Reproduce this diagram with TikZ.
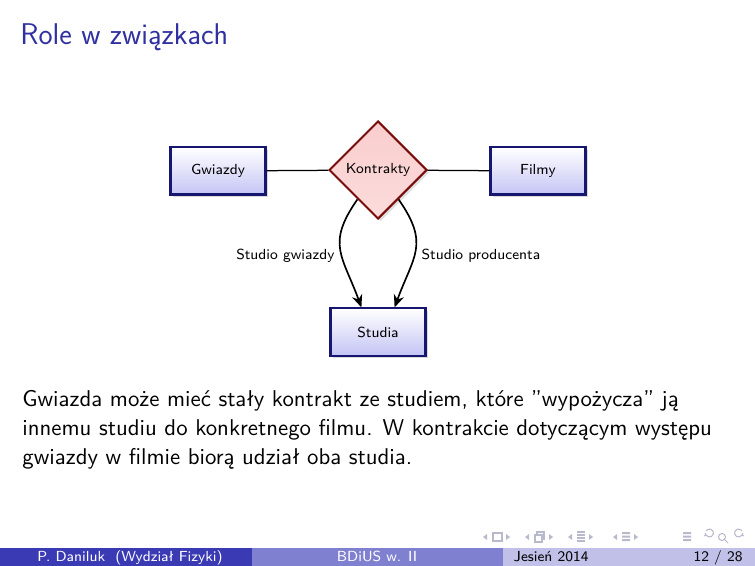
\documentclass[tikz,border=0pt]{standalone}
\usepackage{fontspec}
\usepackage{tikz}
\usetikzlibrary{arrows,arrows.meta,shapes.geometric,shadows}
\renewcommand{\familydefault}{\sfdefault}
\newfontface\tytulfont{lmsans17-regular.otf}
\definecolor{structblue}{RGB}{48,48,160}
\definecolor{navyframe}{RGB}{22,22,112}
\definecolor{lavender}{RGB}{196,196,245}
\definecolor{maroon}{RGB}{122,12,12}
\definecolor{rosepink}{RGB}{250,205,205}
\definecolor{footdark}{RGB}{58,58,180}
\definecolor{footmid}{RGB}{128,128,208}
\definecolor{footlight}{RGB}{192,192,232}
\definecolor{navgray}{RGB}{185,185,205}

\begin{document}
\begin{tikzpicture}[x=0.48pt,y=-0.48pt,
    encja/.style={rectangle, draw=navyframe, line width=1pt, top color=white, bottom color=lavender,
        minimum width=45.6pt, minimum height=22.6pt, font=\fontsize{7}{8.4}\selectfont,
        drop shadow={shadow xshift=1.2pt, shadow yshift=-1.2pt, opacity=.3}},
    zwiazek/.style={diamond, draw=maroon, line width=1pt, top color=rosepink, bottom color=rosepink!70!white,
        minimum size=47pt, inner sep=0pt, font=\fontsize{7}{8.4}\selectfont,
        drop shadow={shadow xshift=1.2pt, shadow yshift=-1.2pt, opacity=.25}},
    linia/.style={semithick},
    rola/.style={thick, -{Stealth[length=6pt, width=5pt]}, looseness=1.3},
    etykieta/.style={font=\fontsize{7}{8.4}\selectfont, inner sep=3pt},
    stopka/.style={font=\fontsize{7}{8}\selectfont, inner sep=0pt, anchor=base},
    nav/.style={navgray, line width=0.5pt}]
  \useasboundingbox (0,0) rectangle (755,566);

  % tytul
  \node[anchor=base west, inner sep=0pt, text=structblue, font=\tytulfont\fontsize{14.4}{17}\selectfont] (tytul) at (20,45) {Role w związkach};

  % diagram
  \node[encja]   (gwi) at (218,171) {Gwiazdy};
  \node[zwiazek] (kon) at (378,170) {Kontrakty};
  \node[encja]   (fil) at (538,171) {Filmy};
  \node[encja]   (stu) at (378,332) {Studia};

  \draw[linia] (gwi) -- (kon);
  \draw[linia] (kon) -- (fil);
  \draw[rola] (kon.235) to[out=235, in=110]
      node[etykieta, left, pos=0.55] {Studio gwiazdy} (stu.124);
  \draw[rola] (kon.305) to[out=-55, in=70]
      node[etykieta, right, pos=0.55] {Studio producenta} (stu.56);

  % tekst
  \node[anchor=north west, inner sep=0pt, align=left, font=\fontsize{10.95}{13.9}\selectfont] (opis) at (22,390)
    {Gwiazda może mieć stały kontrakt ze studiem, które ''wypożycza'' ją\\
     innemu studiu do konkretnego filmu. W kontrakcie dotyczącym występu\\
     gwiazdy w filmie biorą udział oba studia.};

  % symbole nawigacji
  \foreach \x in {483,525,568,613} \fill[navgray] (\x,537) -- (\x+4,534) -- (\x+4,540) -- cycle;
  \foreach \x in {510,553,593,638} \fill[navgray] (\x,537) -- (\x-4,534) -- (\x-4,540) -- cycle;
  \draw[nav] (493,533) rectangle (502,541);
  \draw[nav] (535,535) rectangle (542,542) (537,535) -- (537,532) -- (544,532) -- (544,539) -- (542,539);
  \draw[nav] (577,532) -- (585,532) (577,535) -- (585,535) (577,538) -- (585,538) (577,541) -- (585,541);
  \fill[navgray] (622,532) rectangle (630,534) (622,535.5) rectangle (630,537.5) (622,539) rectangle (630,541);
  \fill[navgray] (683,532) rectangle (691,534) (683,535.5) rectangle (691,537.5) (683,539) rectangle (691,541);
  \draw[nav] (706,535) arc (150:-150:4) (705,533) -- (706,535) -- (704,536);
  \draw[nav] (722,537) circle (3.5) (724.5,539.5) -- (728,543);
  \draw[nav] (742,535) arc (30:330:4) (743,533) -- (742,535) -- (744,536);

  % stopka
  \fill[footdark]  (0,548)   rectangle (251.5,566);
  \fill[footmid]   (251.5,548) rectangle (503,566);
  \fill[footlight] (503,548) rectangle (755,566);
  \node[stopka, text=white] (autor) at (130,561) {P. Daniluk\ \ (Wydział Fizyki)};
  \node[stopka, text=white] (kurs)  at (377,561) {BDiUS w. II};
  \node[stopka, anchor=base east] (data) at (589,561) {Jesień 2014};
  \node[stopka, anchor=base east] (numer) at (743,561) {12 / 28};
\end{tikzpicture}
\end{document}
